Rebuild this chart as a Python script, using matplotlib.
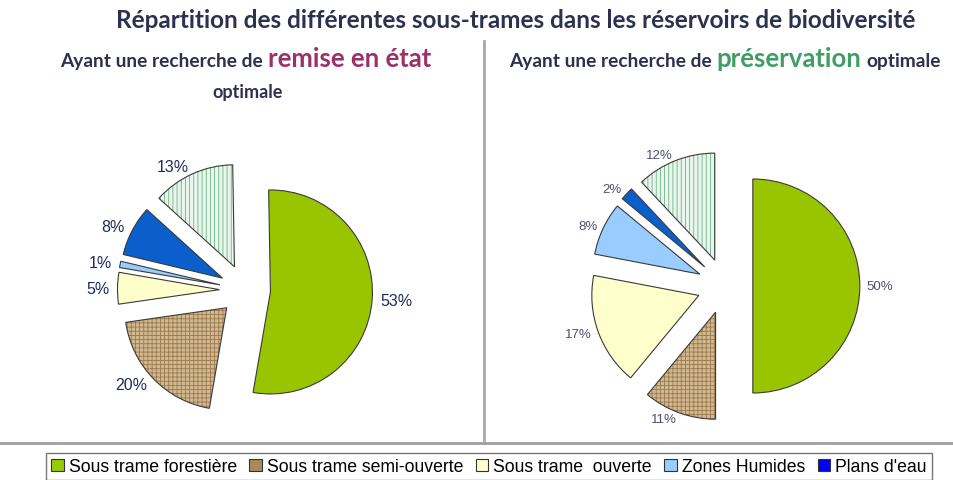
import matplotlib.pyplot as plt
from matplotlib.patches import Patch

# data
categories = ["Sous trame forestière", "Sous trame semi-ouverte", "Sous trame  ouverte",
              "Zones Humides", "Plans d'eau", "Autre"]
remise = [53, 20, 5, 1, 8, 13]
preservation = [50, 11, 17, 8, 2, 12]

# styles
face = ['#99c400', '#d2b890', '#ffffcc', '#99ccff', '#0a5fcc', '#eaf5ee']
hatches = [None, '++++', None, None, None, '||||']
hatch_col = ['#99c400', '#9a7a4e', '#ffffcc', '#99ccff', '#0a5fcc', '#6cb487']
legend_face = ['#99cc00', '#a88a5c', '#ffffcc', '#99ccff', '#0000ff']

plt.rcParams['hatch.linewidth'] = 0.6

W, H = 954, 481
fig = plt.figure(figsize=(W / 100, H / 100), dpi=100)


def px_axes(cx, cy, half):
    # axes box in pixels, centred on (cx, cy) measured from the top
    return fig.add_axes([(cx - half) / W, (H - cy - half) / H, 2 * half / W, 2 * half / H])


def draw_pie(ax, vals, expl, start, radius_px, half, lab_size, lab_color, labdist):
    wedges, texts = ax.pie(vals, explode=[expl] * len(vals), startangle=start, counterclock=False,
                           colors=face, labels=[f'{v}%' for v in vals], labeldistance=labdist,
                           textprops=dict(fontsize=lab_size, color=lab_color, family='Liberation Sans'),
                           wedgeprops=dict(linewidth=0))
    for w, h, hc in zip(wedges, hatches, hatch_col):
        w.set_edgecolor(hc)
        if h:
            w.set_hatch(h)
    # outlines on top
    ax.pie(vals, explode=[expl] * len(vals), startangle=start, counterclock=False,
           wedgeprops=dict(fill=False, edgecolor='#3a3a3a', linewidth=0.8))
    lim = half / radius_px
    ax.set_xlim(-lim, lim)
    ax.set_ylim(-lim, lim)
    ax.set_aspect('equal')
    ax.axis('off')


ax1 = px_axes(245, 291, 160)
draw_pie(ax1, remise, 0.25, 91, 102, 160, 11.5, '#1c2b5e', 1.08)
ax2 = px_axes(725, 287, 160)
draw_pie(ax2, preservation, 0.26, 90, 107, 160, 9.5, '#4b4f6e', 1.06)

renderer = fig.canvas.get_renderer()


def colored_line(y_px, parts, x_center, gap=5):
    texts = []
    for s, size, col in parts:
        t = fig.text(0, 1 - y_px / H, s, fontsize=size, color=col, fontweight='bold',
                     family='Lato', va='baseline')
        texts.append(t)
    widths = [t.get_window_extent(renderer).width for t in texts]
    total = sum(widths) + gap * (len(texts) - 1)
    x = x_center - total / 2
    for t, w in zip(texts, widths):
        t.set_x(x / W)
        x += w + gap


dark = '#2c3150'
colored_line(28, [("Répartition des différentes sous-trames dans les réservoirs de biodiversité", 17.5, dark)],
             x_center=516)
colored_line(67, [("Ayant une recherche de", 13.8, dark), ("remise en état", 18.5, '#9c3068')],
             x_center=246)
colored_line(98, [("optimale", 13, dark)], x_center=248)
colored_line(67, [("Ayant une recherche de", 13.8, dark), ("préservation", 18.5, '#3f9e63'),
                  ("optimale", 13.8, dark)], x_center=725)

# separators
fig.add_artist(plt.Line2D([484 / W, 484 / W], [1 - 42 / H, 1 - 444 / H], color='#a8a8a8', lw=2))
fig.add_artist(plt.Line2D([0, 1], [1 - 444 / H, 1 - 444 / H], color='#a0a0a0', lw=2))

handles = [Patch(facecolor=c, edgecolor='#333333', linewidth=0.8) for c in legend_face]
leg = fig.legend(handles, categories[:5], loc='lower center', bbox_to_anchor=(489 / W, -0.004),
                 ncol=5, frameon=True, fancybox=False, edgecolor='#555555',
                 handlelength=0.7, handleheight=0.7, handletextpad=0.3, columnspacing=0.7,
                 borderpad=0.3, borderaxespad=0.1, prop=dict(family='Liberation Sans', size=12.7))
leg.get_frame().set_linewidth(1.0)

fig.savefig('out.png', dpi=100)
